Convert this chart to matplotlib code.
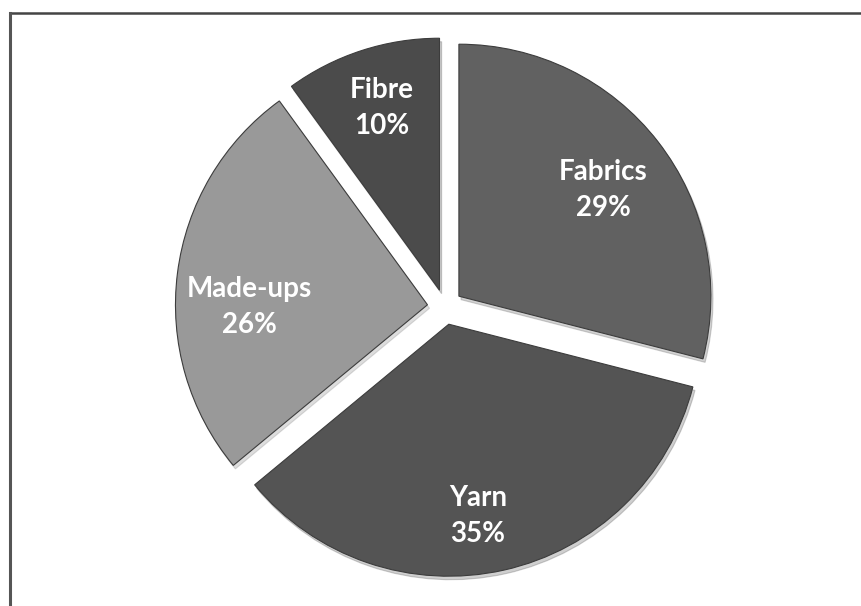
import numpy as np
import matplotlib.pyplot as plt
from matplotlib.lines import Line2D

labels = ['Fibre', 'Made-ups', 'Yarn', 'Fabrics']
shares = [10, 26, 35, 29]
colors = ['#4b4b4b', '#999999', '#545454', '#616161']

# label offsets from each slice's own centre (style, not data)
label_offsets = [(-0.228, 0.723), (-0.705, -0.009), (0.116, -0.761), (0.572, 0.421)]

fig = plt.figure(figsize=(8.62, 6.06), dpi=100)
ax = fig.add_axes([0.1654, -0.0056, 0.7016, 0.998])

wedges, texts = ax.pie(
    shares, colors=colors, startangle=90, counterclock=True,
    explode=[0.07] * len(shares), radius=1.0,
    wedgeprops=dict(edgecolor='#3c3c3c', linewidth=0.8),
    shadow={'ox': 0.006, 'oy': -0.01, 'shade': 0.2, 'alpha': 0.25},
)

for w, name, val, (ox, oy) in zip(wedges, labels, shares, label_offsets):
    cx, cy = w.center
    ax.text(cx + ox, cy + oy, f'{name}\n{val}%',
            ha='center', va='center', color='white', fontsize=20,
            fontweight='bold', family=['Lato', 'DejaVu Sans'], linespacing=1.5)

ax.set_xlim(-1.2, 1.2)
ax.set_ylim(-1.2, 1.2)
ax.set_aspect('equal')
ax.axis('off')

# frame, cut off at right and bottom
fig.add_artist(Line2D([10 / 862, 1], [1 - 13 / 606, 1 - 13 / 606],
                      transform=fig.transFigure, color='#444444', lw=1.8))
fig.add_artist(Line2D([10 / 862, 10 / 862], [1 - 13 / 606, 0],
                      transform=fig.transFigure, color='#555555', lw=2.2))

fig.savefig('out.png', dpi=100, facecolor='white')
